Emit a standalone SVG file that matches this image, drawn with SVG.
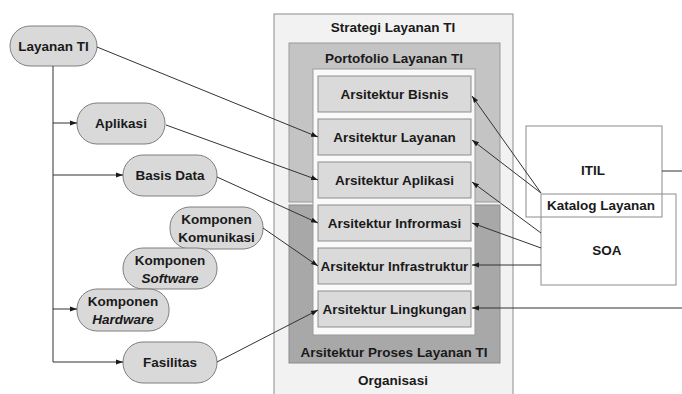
<svg xmlns="http://www.w3.org/2000/svg" width="682" height="394" viewBox="0 0 682 394">
<style>
text{font-family:"Liberation Sans",Arial,sans-serif;font-weight:bold;font-size:13.5px;fill:#1a1a1a;text-anchor:middle}
.pill{fill:#d9d9d9;stroke:#7f7f7f;stroke-width:1}
.item{fill:#dadada;stroke:#8c8c8c;stroke-width:1}
.ln{fill:none;stroke:#333;stroke-width:1}
.box{fill:#fff;stroke:#8c8c8c;stroke-width:1}
</style>
<defs>
<marker id="ah" viewBox="0 0 10 10" refX="10" refY="5" markerWidth="7" markerHeight="7" orient="auto" markerUnits="userSpaceOnUse">
<path d="M0,1.5 L10,5 L0,8.5 Z" fill="#1a1a1a"/>
</marker>
</defs>
<rect width="682" height="394" fill="#fff"/>
<g id="strategi">
<rect x="274" y="14" width="239" height="390" fill="#f2f2f2" stroke="#8c8c8c"/>
<text x="393" y="32">Strategi Layanan TI</text>
<text x="393" y="385">Organisasi</text>
</g>
<g id="portofolio">
<rect x="289" y="43" width="211" height="159" fill="#c4c4c4" stroke="#9a9a9a"/>
<text x="394" y="63">Portofolio Layanan TI</text>
</g>
<g id="proses">
<rect x="289" y="205" width="211" height="158" fill="#a8a8a8" stroke="#8c8c8c"/>
<text x="394" y="357">Arsitektur Proses Layanan TI</text>
</g>
<g id="inner">
<rect x="313" y="69" width="162" height="266" fill="#fafafa" stroke="#9a9a9a"/>
</g>
<g id="a-bisnis"><rect class="item" x="318" y="76" width="153" height="36"/><text x="394.5" y="99">Arsitektur Bisnis</text></g>
<g id="a-layanan"><rect class="item" x="318" y="119" width="153" height="36"/><text x="394.5" y="142">Arsitektur Layanan</text></g>
<g id="a-aplikasi"><rect class="item" x="318" y="162" width="153" height="36"/><text x="394.5" y="185">Arsitektur Aplikasi</text></g>
<g id="a-informasi"><rect class="item" x="318" y="205" width="153" height="36"/><text x="394.5" y="228">Arsitektur Infrormasi</text></g>
<g id="a-infrastruktur"><rect class="item" x="318" y="248" width="153" height="36"/><text x="394.5" y="271">Arsitektur Infrastruktur</text></g>
<g id="a-lingkungan"><rect class="item" x="318" y="291" width="153" height="36"/><text x="394.5" y="314">Arsitektur Lingkungan</text></g>
<g id="itil"><rect class="box" x="526" y="126" width="136" height="91" fill="none"/><text x="593" y="175">ITIL</text></g>
<g id="soa"><rect class="box" x="541" y="194" width="135" height="91" fill="none" style="fill:none"/><text x="607" y="255">SOA</text></g>
<g id="katalog"><text x="601" y="210">Katalog Layanan</text></g>
<g id="layanan-ti"><rect class="pill" x="10" y="26" width="87" height="40" rx="20"/><text x="53.5" y="51">Layanan TI</text></g>
<g id="aplikasi"><rect class="pill" x="77" y="103" width="88" height="41" rx="20"/><text x="121" y="128">Aplikasi</text></g>
<g id="basis-data"><rect class="pill" x="123" y="155" width="94" height="41" rx="20"/><text x="170" y="180">Basis Data</text></g>
<g id="komunikasi"><rect class="pill" x="170" y="207" width="93" height="42" rx="20"/><text x="216.5" y="224">Komponen</text><text x="216.5" y="242">Komunikasi</text></g>
<g id="software"><rect class="pill" x="123" y="248" width="94" height="41" rx="20"/><text x="170" y="265">Komponen</text><text x="170" y="283" font-style="italic">Software</text></g>
<g id="hardware"><rect class="pill" x="77" y="289" width="92" height="42" rx="20"/><text x="123" y="306">Komponen</text><text x="123" y="324" font-style="italic">Hardware</text></g>
<g id="fasilitas"><rect class="pill" x="123" y="342" width="94" height="41" rx="20"/><text x="170" y="367">Fasilitas</text></g>
<g id="connectors">
<path class="ln" d="M53,66 V362"/>
<path class="ln" d="M53,123 H77" marker-end="url(#ah)"/>
<path class="ln" d="M53,175 H123" marker-end="url(#ah)"/>
<path class="ln" d="M53,309 H77" marker-end="url(#ah)"/>
<path class="ln" d="M53,362 H123" marker-end="url(#ah)"/>
<path class="ln" d="M97,47 L318,137" marker-end="url(#ah)"/>
<path class="ln" d="M166,125 L318,180" marker-end="url(#ah)"/>
<path class="ln" d="M217,177 L318,223" marker-end="url(#ah)"/>
<path class="ln" d="M263,228 L318,266" marker-end="url(#ah)"/>
<path class="ln" d="M217,362 L318,310" marker-end="url(#ah)"/>
<path class="ln" d="M541,193 L472,96" marker-end="url(#ah)"/>
<path class="ln" d="M541,193 L472,140" marker-end="url(#ah)"/>
<path class="ln" d="M541,233 L472,182" marker-end="url(#ah)"/>
<path class="ln" d="M541,248 L472,223" marker-end="url(#ah)"/>
<path class="ln" d="M541,265 H472" marker-end="url(#ah)"/>
<path class="ln" d="M682,308 H472" marker-end="url(#ah)"/>
<path class="ln" d="M662,171 H682"/>
</g>
</svg>
